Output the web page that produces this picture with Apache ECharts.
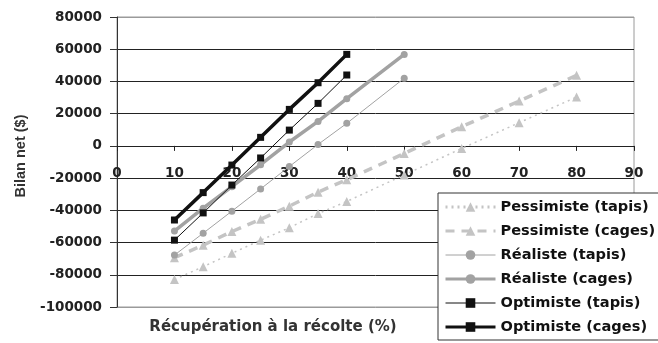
<!DOCTYPE html>
<html>
<head>
<meta charset="utf-8">
<script src="https://cdn.jsdelivr.net/npm/echarts@6/dist/echarts.min.js"></script>
<style>html,body{margin:0;padding:0;background:#fff}#c{width:658px;height:343px}</style>
</head>
<body>
<div id="c"></div>
<script>
// Data
const xOptimiste = [10, 15, 20, 25, 30, 35, 40];
const xRealiste = [10, 15, 20, 25, 30, 35, 40, 50];
const xPessimiste = [10, 15, 20, 25, 30, 35, 40, 50, 60, 70, 80];

const pessimisteTapis = [-82900, -75000, -66700, -58500, -50800, -42000, -34500, -18000, -1600, 14400, 30300];
const pessimisteCages = [-69400, -61600, -53200, -45600, -37400, -28700, -21000, -4700, 11900, 27800, 43800];
const realisteTapis = [-67800, -54200, -40500, -26700, -12800, 900, 14000, 42000];
const realisteCages = [-52900, -38700, -25300, -11700, 2400, 15200, 29300, 56800];
const optimisteTapis = [-58500, -41600, -24300, -7500, 9800, 26400, 44000];
const optimisteCages = [-46000, -29000, -11900, 5300, 22650, 39200, 56800];

const seriesNames = ['Pessimiste (tapis)', 'Pessimiste (cages)', 'Réaliste (tapis)', 'Réaliste (cages)', 'Optimiste (tapis)', 'Optimiste (cages)'];
const xTitle = 'Récupération à la récolte (%)';
const yTitle = 'Bilan net ($)';

const yMin = -100000, yMax = 80000, yStep = 20000;
const xMin = 0, xMax = 90, xStep = 10;

function pairs(xs, ys) { return xs.map((x, i) => [x, ys[i]]); }

const W = 658, H = 343;
const G = { left: 117, right: 24, top: 17, bottom: 36 };
const gridH = H - G.top - G.bottom;
// the horizontal axis crosses the vertical axis at 0 (like Excel)
const xAxisOffset = -gridH * (0 - yMin) / (yMax - yMin);

const styles = [
  { color: '#c4c4c4', width: 1.5, type: [2, 4], symbol: 'triangle', size: 9 },
  { color: '#c4c4c4', width: 3.5, type: [9, 7], symbol: 'triangle', size: 9 },
  { color: '#a2a2a2', width: 1, type: 'solid', symbol: 'circle', size: 7 },
  { color: '#a2a2a2', width: 3.5, type: 'solid', symbol: 'circle', size: 7 },
  { color: '#111', width: 1, type: 'solid', symbol: 'rect', size: 7 },
  { color: '#111', width: 3.5, type: 'solid', symbol: 'rect', size: 7 }
];
const seriesX = [xPessimiste, xPessimiste, xRealiste, xRealiste, xOptimiste, xOptimiste];
const seriesY = [pessimisteTapis, pessimisteCages, realisteTapis, realisteCages, optimisteTapis, optimisteCages];

const chart = echarts.init(document.getElementById('c'), null, { renderer: 'canvas' });

const lblFont = { fontFamily: 'DejaVu Sans', fontWeight: 'bold', fontSize: 13.5, color: '#222' };

const series = seriesNames.map((name, i) => {
  const s = styles[i];
  return {
    name: name, type: 'line', data: pairs(seriesX[i], seriesY[i]),
    symbol: s.symbol, symbolSize: s.size, showSymbol: true,
    lineStyle: { color: s.color, width: s.width, type: s.type },
    itemStyle: { color: s.color, borderWidth: 0 },
    emphasis: { disabled: true },
    animation: false
  };
});

const legendData = seriesNames.map((name, i) => {
  const s = styles[i];
  return {
    name: name,
    lineStyle: { color: s.color, width: s.width === 1 ? 1 : 3, type: s.type },
    itemStyle: { color: s.color, borderWidth: 0 }
  };
});

chart.setOption({
  animation: false,
  grid: { left: G.left, right: G.right, top: G.top, bottom: G.bottom, show: true, borderColor: '#9a9a9a', borderWidth: 1, backgroundColor: 'transparent' },
  xAxis: {
    type: 'value', min: xMin, max: xMax, interval: xStep,
    position: 'bottom', offset: xAxisOffset,
    axisLine: { onZero: false, lineStyle: { color: '#222', width: 1 } },
    axisTick: { show: true, inside: false, length: 5, lineStyle: { color: '#222' } },
    axisLabel: Object.assign({ margin: 21, formatter: v => String(v) }, lblFont),
    splitLine: { show: false }
  },
  yAxis: {
    type: 'value', min: yMin, max: yMax, interval: yStep,
    axisLine: { show: true, onZero: false, lineStyle: { color: '#333', width: 1 } },
    axisTick: { show: true, length: 7, lineStyle: { color: '#333' } },
    axisLabel: Object.assign({ margin: 15, formatter: v => String(v) }, lblFont),
    splitLine: { show: true, lineStyle: { width: 1, color: ['#9a9a9a', '#222', '#222', '#222', '#222', '#222', '#222', '#222', '#222', '#9a9a9a'] } }
  },
  legend: {
    orient: 'vertical', left: 438, top: 193,
    backgroundColor: '#fff', borderColor: '#333', borderWidth: 1,
    padding: [5, 6, 4, 6],
    itemWidth: 50, itemHeight: 12, itemGap: 6,
    textStyle: { fontFamily: 'DejaVu Sans', fontWeight: 'bold', fontSize: 14.6, color: '#111', lineHeight: 18 },
    data: legendData
  },
  graphic: [
    { type: 'text', x: 273, y: 327, style: { text: xTitle, font: 'bold 15px "DejaVu Sans"', fill: '#333', align: 'center', verticalAlign: 'middle' } },
    { type: 'text', x: 20.5, y: 156, rotation: Math.PI / 2, style: { text: yTitle, font: 'bold 14.5px "Liberation Sans"', fill: '#333', align: 'center', verticalAlign: 'middle' } }
  ],
  series: series
});
</script>
</body>
</html>
